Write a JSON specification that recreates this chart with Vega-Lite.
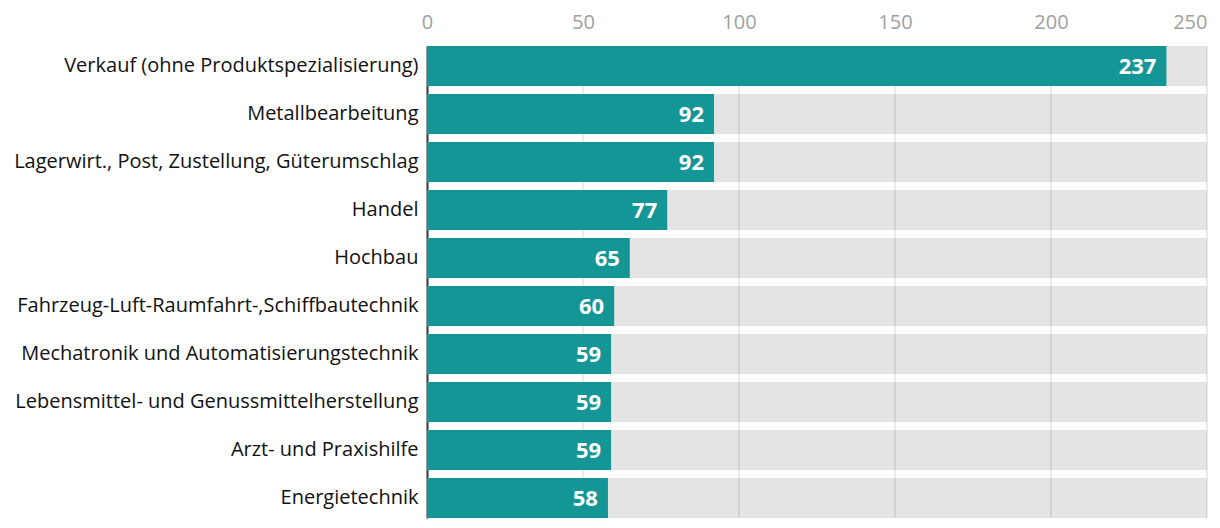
{
  "$schema": "https://vega.github.io/schema/vega-lite/v6.json",
  "width": 780,
  "height": 472,
  "padding": {"left": 427, "top": 46, "right": 13, "bottom": 10},
  "autosize": {"type": "none"},
  "background": "white",
  "config": {"view": {"stroke": null}, "font": "Open Sans"},
  "datasets": {
    "main": [
      {"beruf": "Verkauf (ohne Produktspezialisierung)", "wert": 237, "max": 250},
      {"beruf": "Metallbearbeitung", "wert": 92, "max": 250},
      {"beruf": "Lagerwirt., Post, Zustellung, Güterumschlag", "wert": 92, "max": 250},
      {"beruf": "Handel", "wert": 77, "max": 250},
      {"beruf": "Hochbau", "wert": 65, "max": 250},
      {"beruf": "Fahrzeug-Luft-Raumfahrt-,Schiffbautechnik", "wert": 60, "max": 250},
      {"beruf": "Mechatronik und Automatisierungstechnik", "wert": 59, "max": 250},
      {"beruf": "Lebensmittel- und Genussmittelherstellung", "wert": 59, "max": 250},
      {"beruf": "Arzt- und Praxishilfe", "wert": 59, "max": 250},
      {"beruf": "Energietechnik", "wert": 58, "max": 250}
    ],
    "grid": [{"v": 50}, {"v": 100}, {"v": 150}, {"v": 200}, {"v": 250}]
  },
  "layer": [
    {
      "data": {"name": "main"},
      "mark": {"type": "bar", "color": "#e4e4e4"},
      "encoding": {
        "y": {
          "field": "beruf", "type": "nominal", "sort": null,
          "scale": {"paddingInner": 0.1667, "paddingOuter": 0},
          "axis": {
            "title": null, "ticks": false, "labelPadding": 9,
            "labelFontSize": 20, "labelColor": "#111", "labelFont": "Open Sans",
            "domainColor": "#333", "domainWidth": 2, "labelLimit": 430
          }
        },
        "x": {
          "field": "max", "type": "quantitative",
          "scale": {"domain": [0, 250], "nice": false},
          "axis": {
            "orient": "top", "title": null, "ticks": false, "domain": false, "grid": false,
            "values": [0, 50, 100, 150, 200, 250],
            "labelFontSize": 20, "labelColor": "#a0a0a0", "labelPadding": 14,
            "labelAlign": {"condition": {"test": "datum.value == 250", "value": "right"}, "value": "center"}
          }
        }
      }
    },
    {
      "data": {"name": "grid"},
      "mark": {"type": "rule", "color": "#000", "opacity": 0.08, "strokeWidth": 2},
      "encoding": {"x": {"field": "v", "type": "quantitative"}}
    },
    {
      "data": {"name": "main"},
      "mark": {"type": "bar", "color": "#159696"},
      "encoding": {
        "y": {"field": "beruf", "type": "nominal", "sort": null},
        "x": {"field": "wert", "type": "quantitative"}
      }
    },
    {
      "data": {"name": "main"},
      "mark": {"type": "text", "align": "right", "baseline": "middle", "dx": -10, "dy": 1, "color": "white", "fontWeight": "bold", "fontSize": 22, "font": "Open Sans"},
      "encoding": {
        "y": {"field": "beruf", "type": "nominal", "sort": null},
        "x": {"field": "wert", "type": "quantitative"},
        "text": {"field": "wert", "type": "quantitative"}
      }
    }
  ]
}
